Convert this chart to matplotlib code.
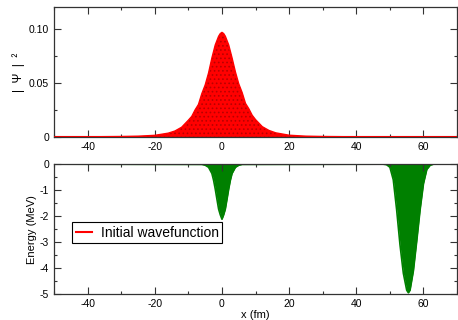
import matplotlib.pyplot as plt
from matplotlib.ticker import MultipleLocator, FixedLocator, FixedFormatter
from matplotlib.lines import Line2D

plt.rcParams['font.family'] = ['Liberation Sans', 'DejaVu Sans']
plt.rcParams['axes.unicode_minus'] = False
plt.rcParams['hatch.linewidth'] = 0.7

# |psi|^2 of the initial state (x in fm)
psi_x = [-50, -38, -30, -25, -20, -16, -14, -12, -10, -9, -8, -7, -6, -5, -4, -3,
         -2, -1.5, -1, -0.5, 0, 0.5, 1, 1.5, 2, 3, 4, 5, 6, 7, 8, 9, 10, 12, 14,
         16, 20, 25, 30, 38, 70]
psi_sq = [0.0, 0.0002, 0.0004, 0.0007, 0.0015, 0.0035, 0.0055, 0.009, 0.0155,
          0.019, 0.025, 0.030, 0.040, 0.048, 0.059, 0.073, 0.085, 0.089, 0.093,
          0.0955, 0.0966, 0.0955, 0.093, 0.089, 0.085, 0.073, 0.060, 0.049, 0.041,
          0.031, 0.026, 0.020, 0.016, 0.0095, 0.006, 0.0038, 0.0016, 0.0007,
          0.0004, 0.0002, 0.0]

# potential with two wells (MeV)
pot_x = [-50, -6, -5, -4, -3, -2.5, -2, -1.5, -1, -0.5, 0, 0.5, 1, 1.5, 2, 2.5, 3,
         4, 5, 6, 48, 49, 50, 51, 52, 53, 54, 55, 55.5, 56, 57, 58, 59, 60, 61, 62,
         63, 70]
pot_v = [0.0, -0.01, -0.04, -0.12, -0.36, -0.62, -0.96, -1.35, -1.73, -1.95, -2.12,
         -1.95, -1.73, -1.35, -0.96, -0.62, -0.36, -0.12, -0.04, -0.01, 0.0, -0.02,
         -0.12, -0.6, -1.75, -3.1, -4.2, -4.85, -4.95, -4.85, -4.1, -2.95, -1.75,
         -0.75, -0.2, -0.04, 0.0, 0.0]

fig = plt.figure(figsize=(4.58, 3.2), dpi=100)
ax1 = fig.add_axes([0.118, 0.572, 0.880, 0.406])
ax2 = fig.add_axes([0.118, 0.081, 0.880, 0.406])

# wavefunction
ax1.axhline(0, color='#b00000', lw=1.5, zorder=1)
ax1.fill_between(psi_x, 0, psi_sq, facecolor='red', edgecolor='#b80000',
                 hatch='....', lw=0, zorder=2)
ax1.plot(psi_x, psi_sq, color='red', lw=1, zorder=3)
ax1.set_xlim(-50, 70)
ax1.set_ylim(0, 0.12)
ax1.yaxis.set_major_locator(FixedLocator([0, 0.05, 0.10]))
ax1.yaxis.set_major_formatter(FixedFormatter(['0', '0.05', '0.10']))
ax1.yaxis.set_minor_locator(MultipleLocator(0.025))
ax1.set_ylabel('|  Ψ  |  ²', fontsize=8.5, labelpad=3)

# potential
ax2.fill_between(pot_x, 0, pot_v, color='#008000', lw=0)
ax2.plot(pot_x, pot_v, color='#008000', lw=1.2)
ax2.set_xlim(-50, 70)
ax2.set_ylim(-5, 0)
ax2.yaxis.set_major_locator(MultipleLocator(1))
ax2.yaxis.set_minor_locator(MultipleLocator(0.5))
ax2.set_ylabel('Energy (MeV)', fontsize=8, labelpad=2)
ax2.set_xlabel('x (fm)', fontsize=8, labelpad=1)

for ax in (ax1, ax2):
    ax.xaxis.set_major_locator(MultipleLocator(20))
    ax.xaxis.set_minor_locator(MultipleLocator(10))
    ax.tick_params(which='both', direction='in', top=True, right=True,
                   labelsize=7.5, width=0.8, color='#333333')
    ax.tick_params(which='major', length=5)
    ax.tick_params(which='minor', length=2.5)
    for s in ax.spines.values():
        s.set_linewidth(0.9)
        s.set_color('#333333')

handle = Line2D([], [], color='red', lw=1.5)
leg = ax2.legend([handle], ['Initial wavefunction'], loc='lower left',
                 bbox_to_anchor=(0.045, 0.39), borderaxespad=0, fontsize=10,
                 fancybox=False, framealpha=1, edgecolor='black',
                 handlelength=1.2, handletextpad=0.6, borderpad=0.25)
leg.get_frame().set_linewidth(0.8)

fig.savefig('out.png', dpi=100)
